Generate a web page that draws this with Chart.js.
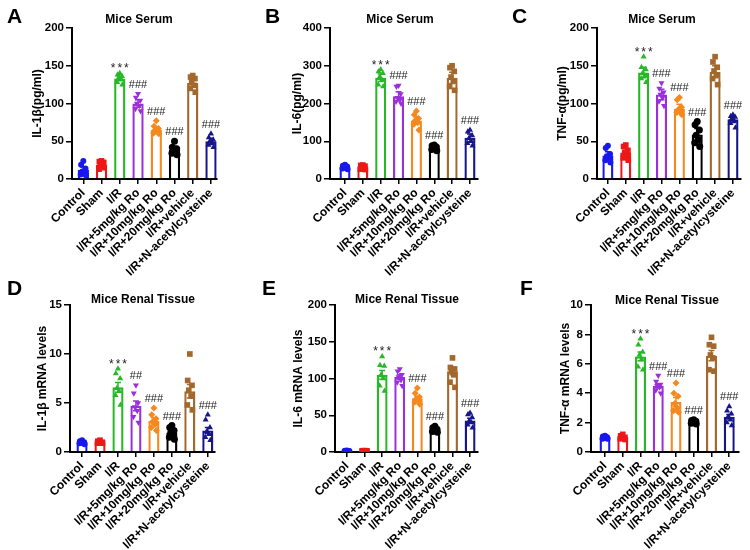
<!DOCTYPE html>
<html>
<head>
<meta charset="utf-8">
<script src="https://cdn.jsdelivr.net/npm/chart.js@4.4.1/dist/chart.umd.min.js"></script>
<style>
  body { margin: 0; background: #fff; }
  #fig { position: relative; width: 750px; height: 550px; overflow: hidden; font-family: 'Liberation Sans', Arial, sans-serif; }
  #fig canvas { position: absolute; }
  .letter { position: absolute; font-size: 21px; font-weight: bold; line-height: 1; color: #000; }
  .ttl { position: absolute; font-size: 12px; font-weight: bold; color: #000; transform: translate(-50%, -50%); white-space: nowrap; }
</style>
</head>
<body>
<div id="fig"></div>
<script>
// groups on the x axis
const groups = ['Control', 'Sham', 'I/R', 'I/R+5mg/kg Ro', 'I/R+10mg/kg Ro', 'I/R+20mg/kg Ro', 'I/R+vehicle', 'I/R+N-acetylcysteine'];

// A - serum IL-1β (pg/ml)
const serumIL1bMean = [12, 19, 133, 100, 65, 39, 127, 50];
const serumIL1bErr = [4, 3, 3, 5, 4, 4, 5, 4];
const serumIL1bPts = [
  [24, 19, 14, 10, 8, 6, 5],
  [24, 23, 22, 19, 16, 13, 15],
  [140, 138, 136, 134, 132, 128, 125],
  [113, 108, 104, 100, 97, 93, 90],
  [77, 70, 67, 65, 63, 61, 60],
  [50, 42, 40, 38, 36, 34, 32],
  [137, 135, 133, 128, 124, 120, 115],
  [60, 55, 52, 50, 47, 45, 42]
];
const serumIL1bMarks = ['', '', '***', '###', '###', '###', '', '###'];
const serumIL1bTicks = [0, 50, 100, 150, 200];

// B - serum IL-6 (pg/ml)
const serumIL6Mean = [32, 31, 268, 219, 155, 82, 268, 109];
const serumIL6Err = [3, 3, 10, 12, 10, 4, 15, 10];
const serumIL6Pts = [
  [38, 35, 33, 31, 30, 28, 26],
  [37, 36, 34, 30, 28, 26, 25],
  [290, 285, 280, 270, 262, 250, 245],
  [248, 245, 225, 215, 210, 205, 200],
  [180, 170, 160, 155, 150, 145, 130],
  [90, 88, 85, 82, 80, 78, 75],
  [300, 295, 285, 270, 260, 245, 235],
  [130, 125, 115, 108, 100, 95, 88]
];
const serumIL6Marks = ['', '', '***', '###', '###', '###', '', '###'];
const serumIL6Ticks = [0, 100, 200, 300, 400];

// C - serum TNF-α (pg/ml)
const serumTNFMean = [31, 35, 141, 112, 93, 59, 142, 79];
const serumTNFErr = [5, 5, 7, 7, 6, 8, 8, 4];
const serumTNFPts = [
  [44, 41, 33, 30, 28, 25, 22],
  [45, 43, 38, 35, 30, 28, 25],
  [162, 148, 145, 140, 137, 133, 128],
  [127, 120, 115, 112, 108, 103, 97],
  [108, 105, 95, 92, 90, 88, 85],
  [76, 72, 65, 58, 52, 48, 43],
  [162, 155, 148, 143, 138, 133, 125],
  [85, 83, 82, 80, 77, 74, 68]
];
const serumTNFMarks = ['', '', '***', '###', '###', '###', '', '###'];
const serumTNFTicks = [0, 50, 100, 150, 200];

// D - renal IL-1β mRNA
const renalIL1bMean = [1.0, 1.0, 6.6, 4.7, 3.2, 2.0, 6.2, 2.2];
const renalIL1bErr = [0.1, 0.1, 0.5, 0.5, 0.3, 0.2, 0.7, 0.3];
const renalIL1bPts = [
  [1.2, 1.1, 1.0, 1.0, 0.9, 0.9, 0.8],
  [1.2, 1.1, 1.0, 1.0, 0.9, 0.9, 0.9],
  [8.5, 8.0, 7.5, 6.5, 6.2, 5.8, 4.8],
  [6.8, 6.0, 5.0, 4.6, 4.2, 3.6, 3.0],
  [4.5, 3.8, 3.4, 3.1, 2.8, 2.5, 2.2],
  [2.7, 2.5, 2.2, 2.0, 1.8, 1.5, 1.3],
  [10.0, 7.3, 6.8, 6.3, 5.7, 4.8, 4.3],
  [3.8, 3.3, 2.5, 2.1, 1.8, 1.5, 1.2]
];
const renalIL1bMarks = ['', '', '***', '##', '###', '###', '', '###'];
const renalIL1bTicks = [0, 5, 10, 15];

// E - renal IL-6 mRNA
const renalIL6Mean = [1.5, 1.4, 105, 102, 73, 30, 110, 43];
const renalIL6Err = [0.3, 0.3, 6, 3, 3, 1, 5, 3];
const renalIL6Pts = [
  [2.0, 1.8, 1.5, 1.5, 1.2, 1.0, 1.0],
  [1.9, 1.7, 1.6, 1.4, 1.3, 1.1, 1.0],
  [130, 118, 117, 105, 100, 90, 83],
  [113, 110, 105, 102, 98, 95, 90],
  [87, 80, 75, 72, 70, 68, 65],
  [35, 33, 31, 30, 29, 28, 27],
  [128, 115, 113, 110, 105, 95, 88],
  [53, 51, 47, 42, 40, 37, 33]
];
const renalIL6Marks = ['', '', '***', '', '###', '###', '', '###'];
const renalIL6Ticks = [0, 50, 100, 150, 200];

// F - renal TNF-α mRNA
const renalTNFMean = [1.0, 1.0, 6.5, 4.5, 3.4, 2.05, 6.55, 2.4];
const renalTNFErr = [0.05, 0.05, 0.3, 0.15, 0.3, 0.05, 0.35, 0.15];
const renalTNFPts = [
  [1.1, 1.05, 1.0, 1.0, 0.95, 0.9, 0.9],
  [1.2, 1.1, 1.0, 1.0, 0.95, 0.9, 0.85],
  [7.7, 7.3, 6.8, 6.6, 6.3, 5.8, 5.6],
  [5.2, 4.8, 4.6, 4.5, 4.4, 4.2, 4.0],
  [4.7, 4.0, 3.8, 3.3, 3.0, 2.8, 2.7],
  [2.2, 2.15, 2.1, 2.05, 2.0, 1.95, 1.9],
  [7.8, 7.3, 7.2, 6.6, 6.4, 5.6, 5.5],
  [3.1, 2.8, 2.6, 2.4, 2.2, 2.0, 1.8]
];
const renalTNFMarks = ['', '', '***', '###', '###', '###', '', '###'];
const renalTNFTicks = [0, 2, 4, 6, 8, 10];

// styling
const groupColors = ['#1717ee', '#ee1717', '#27b827', '#9a30d8', '#f5891e', '#000000', '#a3692c', '#16168a'];
const markerStyle = ['circle', 'rect', 'triangle', 'triangle', 'rectRot', 'circle', 'rect', 'triangle'];
const markerRot = [0, 0, 0, 180, 0, 0, 0, 0];
const markerSize = [3, 4, 3.5, 3.5, 3.5, 3.5, 4, 3.5];
const jitter = [0, -0.12, 0.12, -0.06, 0.07, -0.14, 0.14];
const FONT = "'Liberation Sans', Arial, sans-serif";

Chart.defaults.font.family = FONT;
Chart.defaults.color = '#000';

// page layout of each panel (pixels)
const panels = [
  { letter: 'A', title: 'Mice Serum', yTitle: 'IL-1β(pg/ml)', mean: serumIL1bMean, err: serumIL1bErr, pts: serumIL1bPts, marks: serumIL1bMarks, ticks: serumIL1bTicks,
    canvas: [0, 0, 250, 285], area: [72, 28, 217, 179], xr: [-0.62, 7.33], yTitleX: 37, titleAt: [139, 19], letterAt: [7, 5] },
  { letter: 'B', title: 'Mice Serum', yTitle: 'IL-6(pg/ml)', mean: serumIL6Mean, err: serumIL6Err, pts: serumIL6Pts, marks: serumIL6Marks, ticks: serumIL6Ticks,
    canvas: [250, 0, 250, 285], area: [330, 28, 478, 179], xr: [-0.84, 7.45], yTitleX: 297, titleAt: [400, 19], letterAt: [265, 5] },
  { letter: 'C', title: 'Mice Serum', yTitle: 'TNF-α(pg/ml)', mean: serumTNFMean, err: serumTNFErr, pts: serumTNFPts, marks: serumTNFMarks, ticks: serumTNFTicks,
    canvas: [500, 0, 250, 285], area: [597, 28, 741, 179], xr: [-0.61, 7.45], yTitleX: 562, titleAt: [662, 19], letterAt: [512, 5] },
  { letter: 'D', title: 'Mice Renal Tissue', yTitle: 'IL-1β mRNA levels', mean: renalIL1bMean, err: renalIL1bErr, pts: renalIL1bPts, marks: renalIL1bMarks, ticks: renalIL1bTicks,
    canvas: [0, 268, 250, 282], area: [70, 305, 215, 452], xr: [-0.67, 7.4], yTitleX: 42, titleAt: [143, 299], letterAt: [7, 277] },
  { letter: 'E', title: 'Mice Renal Tissue', yTitle: 'IL-6 mRNA levels', mean: renalIL6Mean, err: renalIL6Err, pts: renalIL6Pts, marks: renalIL6Marks, ticks: renalIL6Ticks,
    canvas: [250, 268, 250, 282], area: [335, 305, 478, 452], xr: [-0.68, 7.45], yTitleX: 298, titleAt: [407, 299], letterAt: [262, 277] },
  { letter: 'F', title: 'Mice Renal Tissue', yTitle: 'TNF-α mRNA levels', mean: renalTNFMean, err: renalTNFErr, pts: renalTNFPts, marks: renalTNFMarks, ticks: renalTNFTicks,
    canvas: [500, 268, 250, 282], area: [591, 305, 739, 452], xr: [-0.79, 7.55], yTitleX: 565, titleAt: [667, 300], letterAt: [520, 277] }
];

const fig = document.getElementById('fig');

function addText(cls, text, x, y) {
  const d = document.createElement('div');
  d.className = cls;
  d.textContent = text;
  d.style.left = x + 'px';
  d.style.top = y + 'px';
  fig.appendChild(d);
}

function makePanel(p) {
  const [cx, cy, cw, ch] = p.canvas;
  const cv = document.createElement('canvas');
  cv.width = cw; cv.height = ch;
  cv.style.left = cx + 'px'; cv.style.top = cy + 'px';
  cv.style.width = cw + 'px'; cv.style.height = ch + 'px';
  fig.appendChild(cv);

  const padLeft = p.yTitleX - cx - 11;
  const yWidth = p.area[0] - cx - padLeft;
  const padTop = p.area[1] - cy;
  const padRight = cx + cw - p.area[2];
  const xHeight = cy + ch - p.area[3];

  const pointSets = groups.map((g, i) => ({
    type: 'scatter',
    order: 0,
    data: p.pts[i].map((v, j) => ({ x: i + jitter[j], y: v })),
    pointStyle: markerStyle[i],
    rotation: markerRot[i],
    pointRadius: markerSize[i],
    backgroundColor: groupColors[i],
    borderColor: groupColors[i],
    borderWidth: 0
  }));

  const barSet = {
    type: 'bar',
    order: 1,
    data: p.mean.map((v, i) => ({ x: i, y: v })),
    backgroundColor: '#fff',
    borderColor: groupColors,
    borderWidth: 2.4,
    barPercentage: 0.62,
    categoryPercentage: 1
  };

  // error bars and significance marks
  const extras = {
    id: 'extras',
    afterDatasetsDraw(chart) {
      const { ctx, scales: { x, y } } = chart;
      ctx.save();
      p.mean.forEach((m, i) => {
        const xc = x.getPixelForValue(i);
        const yt = y.getPixelForValue(m + p.err[i]);
        const yb = y.getPixelForValue(Math.max(0, m - p.err[i]));
        ctx.strokeStyle = groupColors[i];
        ctx.lineWidth = 1.5;
        ctx.beginPath();
        ctx.moveTo(xc, yb); ctx.lineTo(xc, yt);
        ctx.moveTo(xc - 3, yt); ctx.lineTo(xc + 3, yt);
        ctx.moveTo(xc - 3, yb); ctx.lineTo(xc + 3, yb);
        ctx.stroke();

        const mark = p.marks[i];
        if (!mark) return;
        const top = y.getPixelForValue(Math.max(...p.pts[i], m + p.err[i]));
        ctx.fillStyle = '#222';
        ctx.textAlign = 'center';
        ctx.textBaseline = 'alphabetic';
        if (mark[0] === '*') {
          ctx.font = '12px ' + FONT;
          ctx.letterSpacing = '2px';
          ctx.fillText(mark, xc + 1, top - 1);
        } else {
          ctx.font = '11px ' + FONT;
          ctx.letterSpacing = '0px';
          ctx.fillText(mark, xc, top - 6);
        }
      });
      ctx.restore();
    }
  };

  new Chart(cv, {
    type: 'bar',
    data: { datasets: [...pointSets, barSet] },
    options: {
      responsive: false,
      animation: false,
      events: [],
      layout: { padding: { left: padLeft, top: padTop, right: padRight, bottom: 0 } },
      plugins: { legend: { display: false }, tooltip: { enabled: false }, title: { display: false } },
      scales: {
        x: {
          type: 'linear',
          min: p.xr[0],
          max: p.xr[1],
          offset: false,
          afterBuildTicks: s => { s.ticks = groups.map((g, i) => ({ value: i })); },
          afterFit: s => { s.height = xHeight; },
          grid: { display: true, offset: false, drawOnChartArea: false, drawTicks: true, tickLength: 5, color: '#000', lineWidth: 1.5 },
          border: { display: true, color: '#000', width: 2 },
          ticks: {
            autoSkip: false, maxRotation: 45, minRotation: 45, padding: 2,
            font: { size: 12, weight: 'bold' }, color: '#000',
            callback: v => groups[v]
          }
        },
        y: {
          min: 0,
          max: p.ticks[p.ticks.length - 1],
          afterBuildTicks: s => { s.ticks = p.ticks.map(v => ({ value: v })); },
          afterFit: s => { s.width = yWidth; },
          grid: { display: true, drawOnChartArea: false, drawTicks: true, tickLength: 6, color: '#000', lineWidth: 1.5 },
          border: { display: true, color: '#000', width: 2 },
          ticks: { padding: 2, font: { size: 11.5, weight: 'bold' }, color: '#000' },
          title: { display: true, text: p.yTitle, font: { size: 12, weight: 'bold' }, color: '#000', padding: { top: 4, bottom: 4 } }
        }
      }
    },
    plugins: [extras]
  });

  addText('letter', p.letter, p.letterAt[0], p.letterAt[1]);
  addText('ttl', p.title, p.titleAt[0], p.titleAt[1]);
}

panels.forEach(makePanel);
</script>
</body>
</html>
